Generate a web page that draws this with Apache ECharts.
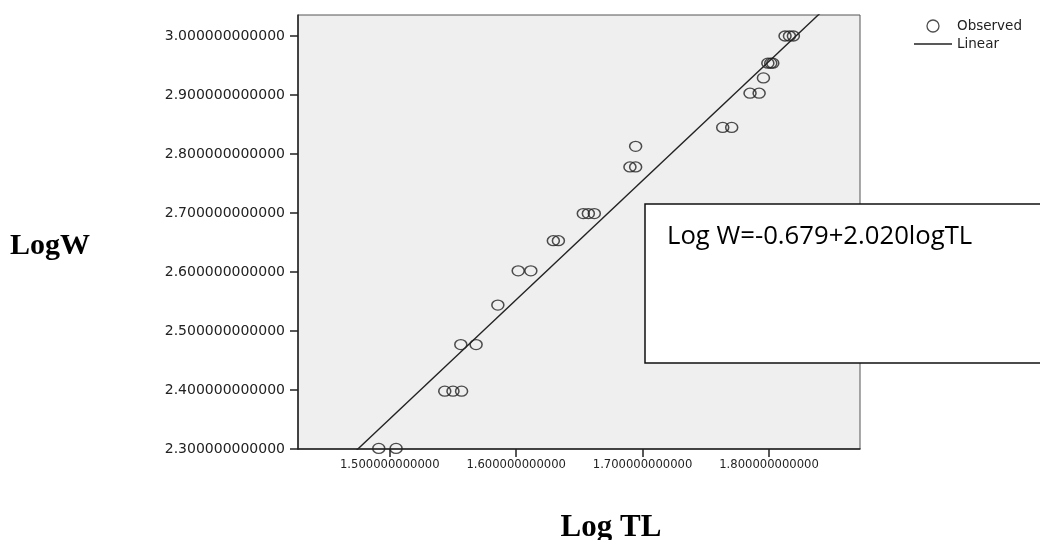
<!DOCTYPE html>
<html><head><meta charset="utf-8">
<script src="https://cdn.jsdelivr.net/npm/echarts@6/dist/echarts.min.js"></script>
<style>html,body{margin:0;padding:0;background:#fff}#c{width:1040px;height:540px}</style>
</head><body><div id="c"></div>
<script>
// Observed values
const logTL = [1.4913, 1.5050, 1.5435, 1.5500, 1.5568, 1.5562, 1.5683, 1.5855, 1.6016, 1.6116,
               1.6294, 1.6334, 1.6531, 1.6571, 1.6618, 1.6900, 1.6945, 1.6945, 1.7634, 1.7705,
               1.7850, 1.7922, 1.7956, 1.7991, 1.8014, 1.8030, 1.8127, 1.8162, 1.8193];
const logW  = [2.301, 2.301, 2.398, 2.398, 2.398, 2.477, 2.477, 2.544, 2.602, 2.602,
               2.653, 2.653, 2.699, 2.699, 2.699, 2.778, 2.778, 2.813, 2.845, 2.845,
               2.903, 2.903, 2.929, 2.954, 2.954, 2.954, 3.000, 3.000, 3.000];
// Linear fit coefficients
const fitIntercept = -0.679;
const fitSlope = 2.020;
// Axis ticks and ranges
const xTicks = [1.5, 1.6, 1.7, 1.8];
const yTicks = [2.3, 2.4, 2.5, 2.6, 2.7, 2.8, 2.9, 3.0];
const xRange = [1.4274, 1.872];
const yRange = [2.3, 3.0356];
const seriesNames = ['Observed', 'Linear'];
const axisNames = ['Log TL', 'LogW'];

const observed = logTL.map((x, i) => [x, logW[i]]);
const fitLine = xRange.map(x => [x, fitIntercept + fitSlope * x]);
const eqText = 'Log W=' + fitIntercept.toFixed(3) + '+' + fitSlope.toFixed(3) + 'logTL';

const chart = echarts.init(document.getElementById('c'));
chart.setOption({
  animation: false,
  backgroundColor: '#ffffff',
  grid: {
    left: 298, right: 180, top: 15, bottom: 91,
    show: true, backgroundColor: '#efefef', borderColor: '#555', borderWidth: 1,
    outerBoundsMode: 'none'
  },
  legend: {
    orient: 'vertical', left: 914, top: 19, itemGap: 4, padding: 0,
    itemWidth: 38, itemHeight: 12,
    textStyle: { fontFamily: 'DejaVu Sans', fontSize: 13.5, color: '#222' },
    data: [
      { name: seriesNames[0], icon: 'circle', itemStyle: { color: 'rgba(0,0,0,0)', borderColor: '#222', borderWidth: 1.3 } },
      { name: seriesNames[1], icon: 'path://M0,0 L38,0 L38,1.4 L0,1.4 Z', itemStyle: { color: '#222' } }
    ]
  },
  xAxis: {
    type: 'value', min: xRange[0], max: xRange[1],
    name: axisNames[0], nameLocation: 'middle', nameGap: 63,
    nameTextStyle: { fontFamily: 'Liberation Serif', fontWeight: 'bold', fontSize: 31, color: '#000', padding: [0, 0, 0, 64] },
    axisLine: { show: true, onZero: false, lineStyle: { color: '#222', width: 1.5 } },
    axisTick: { show: true, length: 8, customValues: xTicks, lineStyle: { color: '#222', width: 1.5 } },
    axisLabel: { customValues: xTicks, margin: 10, fontFamily: 'DejaVu Sans', fontSize: 11.6, color: '#222',
      formatter: v => Number(v).toFixed(12) },
    splitLine: { show: false }
  },
  yAxis: {
    type: 'value', min: yRange[0], max: yRange[1],
    name: axisNames[1], nameLocation: 'middle', nameRotate: 0, nameGap: 208,
    nameTextStyle: { fontFamily: 'Liberation Serif', fontWeight: 'bold', fontSize: 30, color: '#000',
      verticalAlign: 'top', lineHeight: 28 },
    axisLine: { show: true, onZero: false, lineStyle: { color: '#222', width: 1.5 } },
    axisTick: { show: true, length: 8, customValues: yTicks, lineStyle: { color: '#222', width: 1.5 } },
    axisLabel: { customValues: yTicks, margin: 13, fontFamily: 'DejaVu Sans', fontSize: 14, color: '#222',
      formatter: v => Number(v).toFixed(12) },
    splitLine: { show: false }
  },
  series: [
    {
      name: seriesNames[0], type: 'scatter', data: observed,
      symbol: 'circle', symbolSize: [12, 10],
      itemStyle: { color: 'rgba(0,0,0,0)', borderColor: '#222', borderWidth: 1.4 },
      z: 3
    },
    {
      name: seriesNames[1], type: 'line', data: fitLine,
      symbol: 'none', clip: true,
      lineStyle: { color: '#222', width: 1.4 },
      itemStyle: { color: '#222' },
      z: 2
    }
  ],
  graphic: [
    { type: 'rect', z: 100, shape: { x: 645, y: 204, width: 420, height: 159 },
      style: { fill: '#fff', stroke: '#111', lineWidth: 1.5 } },
    { type: 'text', z: 101, x: 667, y: 237,
      style: { text: eqText, fontFamily: 'Open Sans', fontSize: 25.7, fill: '#000', verticalAlign: 'middle', align: 'left' } }
  ]
});
</script>
</body></html>
